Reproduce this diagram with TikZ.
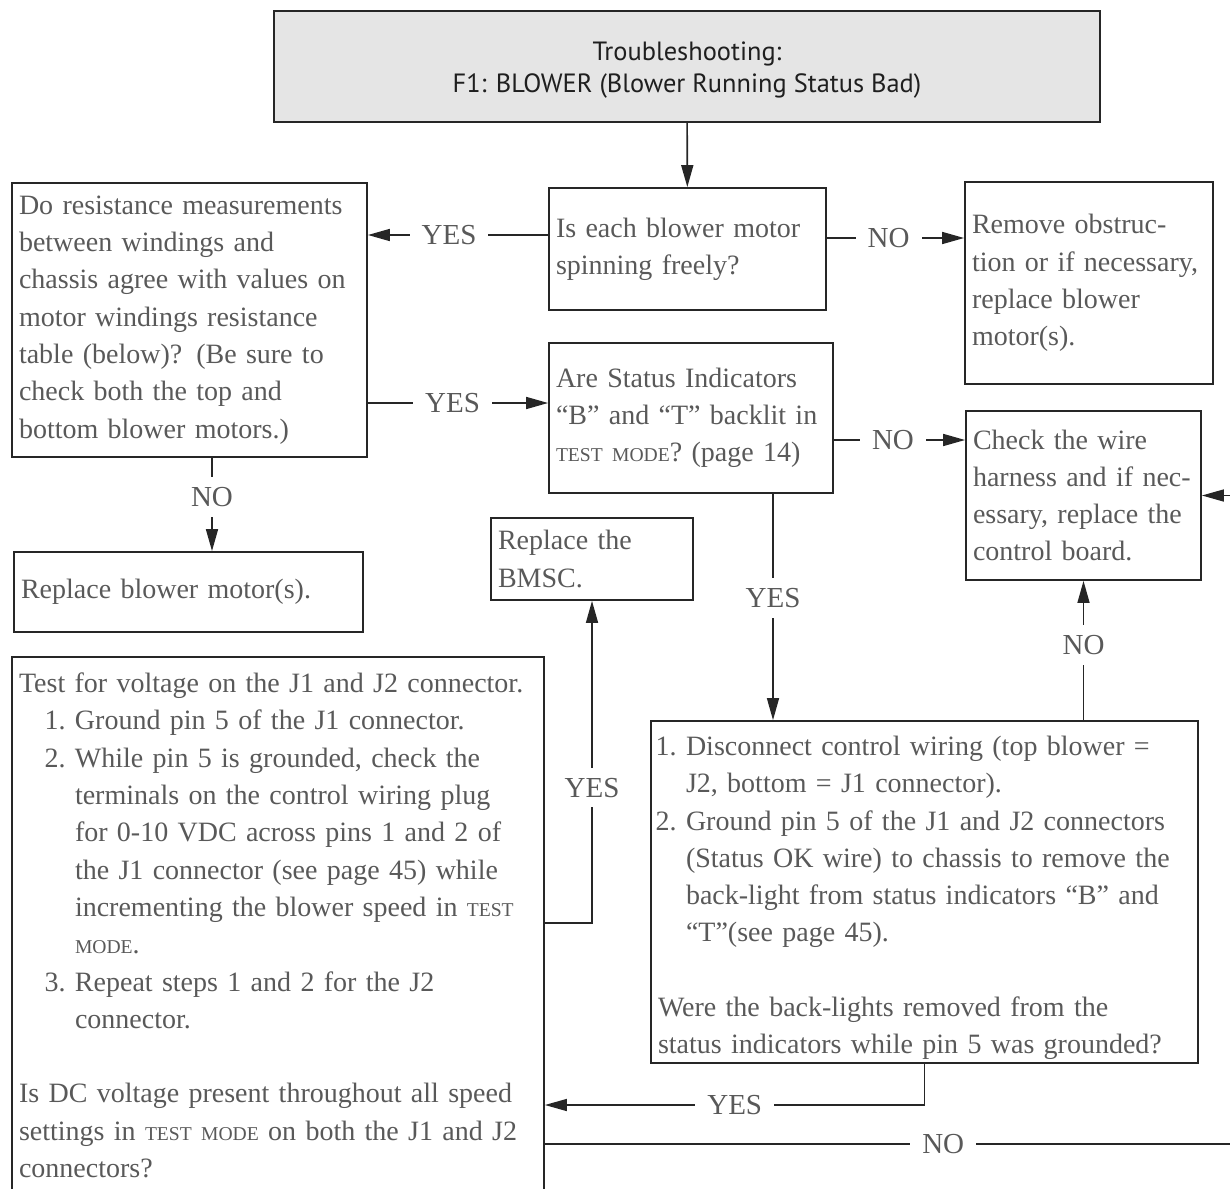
\documentclass[tikz,border=0pt]{standalone}
\usepackage{fontspec}
\setmainfont{Liberation Serif}
\newfontfamily\titlefont{PT Sans}
\usetikzlibrary{arrows.meta}
\setlength{\parindent}{0pt}
\newcommand{\tmode}[1]{{\fontsize{9.8}{10}\selectfont #1}}
\newcommand{\stepno}[2]{\par\hangindent=#1\hangafter=0\leavevmode\llap{#2.\ }}
\newcommand{\lowered}[1]{\raisebox{-2pt}[\height][\depth]{#1}}

\tikzset{
  box/.style={draw=black!85, line width=0.9pt, text=black!65, align=left,
    inner xsep=3.5pt, inner ysep=0pt, font=\fontsize{14}{18.65}\selectfont},
  titlebox/.style={draw=black!85, line width=0.9pt, fill=black!10, text=black!88,
    align=center, minimum width=413pt, minimum height=55.5pt,
    font=\titlefont\fontsize{13.2}{16}\selectfont},
  lbl/.style={fill=white, text=black!65, inner xsep=6pt, inner ysep=5pt,
    font=\fontsize{14.5}{14.5}\selectfont},
  con/.style={draw=black!85, line width=0.8pt},
  arr/.style={con, -{Triangle[length=11pt,width=6pt]}},
}

\begin{document}
\begin{tikzpicture}[x=0.5pt, y=-0.5pt]
  \useasboundingbox (0,0) rectangle (1230,1188);
  \clip (0,0) rectangle (1230,1188);

  \node[titlebox] (title) at (687,66.5) {\lowered{Troubleshooting:}\\\lowered{F1: BLOWER (Blower Running Status Bad)}};

  \node[box, text width=131.5pt, minimum height=61pt] (spin) at (687.5,249)
    {Is each blower motor\\spinning freely?};
  \node[box, text width=170.5pt, minimum height=137pt] (res) at (189.5,320)
    {Do resistance measurements\\between windings and\\chassis agree with values on\\motor windings resistance\\table (below)? (Be sure to\\check both the top and\\bottom blower motors.)};
  \node[box, text width=117pt, minimum height=101pt] (obstr) at (1089,283)
    {Remove obstruc-\\tion or if necessary,\\replace blower\\motor(s).};
  \node[box, text width=135pt, minimum height=75pt] (status) at (691,418)
    {Are Status Indicators\\“B” and “T” backlit in\\\tmode{TEST MODE}? (page 14)};
  \node[box, text width=110.5pt, minimum height=84.5pt] (harness) at (1083.5,495.5)
    {Check the wire\\harness and if nec-\\essary, replace the\\control board.};
  \node[box, text width=167.5pt, minimum height=40pt] (motor) at (188.5,592)
    {Replace blower motor(s).};
  \node[box, text width=94pt, minimum height=41pt] (bmsc) at (592,559)
    {Replace the\\BMSC.};
  \node[box, text width=259pt, inner ysep=8pt, anchor=north] (test) at (278,656)
    {Test for voltage on the J1 and J2 connector.
     \stepno{28pt}{1}Ground pin 5 of the J1 connector.
     \stepno{28pt}{2}While pin 5 is grounded, check the\newline terminals on the control wiring plug\newline for 0-10 VDC across pins 1 and 2 of\newline the J1 connector (see page 45) while\newline incrementing the blower speed in \tmode{TEST}\newline \tmode{MODE}.
     \stepno{28pt}{3}Repeat steps 1 and 2 for the J2\newline connector.\par
     \vspace{\baselineskip}
     Is DC voltage present throughout all speed\newline settings in \tmode{TEST MODE} on both the J1 and J2\newline connectors?};
  \node[box, text width=266.5pt, minimum height=171pt] (check) at (924.5,892)
    {\vspace*{-1.5pt}
     \stepno{14pt}{1}Disconnect control wiring (top blower =\newline J2, bottom = J1 connector).
     \stepno{14pt}{2}Ground pin 5 of the J1 and J2 connectors\newline (Status OK wire) to chassis to remove the\newline back-light from status indicators “B” and\newline “T”(see page 45).\par
     \vspace{\baselineskip}
     Were the back-lights removed from the\newline status indicators while pin 5 was grounded?\par
     \vspace{1.5pt}};

  \coordinate (rin) at (1240,495.5);
  \coordinate (rout) at (1240,1144);

  \draw[arr] (title) -- (spin);
  \draw[arr] ([yshift=7pt]spin.west) -- node[lbl, pos=0.55]{YES} ([yshift=7pt]spin.west -| res.east);
  \draw[arr] ([yshift=5.5pt]spin.east) -- node[lbl, pos=0.45]{NO} ([yshift=5.5pt]spin.east -| obstr.west);
  \draw[arr] ([yshift=7.5pt]status.west -| res.east) -- node[lbl, pos=0.47]{YES} ([yshift=7.5pt]status.west);
  \draw[arr] ([yshift=-11pt]status.east) -- node[lbl, pos=0.45]{NO} ([yshift=-11pt]status.east -| harness.west);
  \draw[arr] ([xshift=11.25pt]res.south) -- node[lbl, pos=0.42]{NO} ([xshift=11.25pt]res.south |- motor.north);
  \draw[arr] ([xshift=41pt]status.south) -- node[lbl, pos=0.46]{YES} ([xshift=41pt]status.south |- check.north);
  \draw[arr] (harness.south |- check.north) -- node[lbl, pos=0.54]{NO} (harness.south);
  \draw[arr] ([yshift=-133.5pt]test.north east) -| node[lbl, pos=0.71]{YES} (bmsc.south);
  \draw[arr] (check.south) |- node[lbl, pos=0.75]{YES} ([yshift=-224.5pt]test.north east);
  \draw[con] ([yshift=-244pt]test.north east) -- node[lbl, pos=0.573]{NO} (rout);
  \draw[arr] (rin) -- (harness.east);
\end{tikzpicture}
\end{document}
